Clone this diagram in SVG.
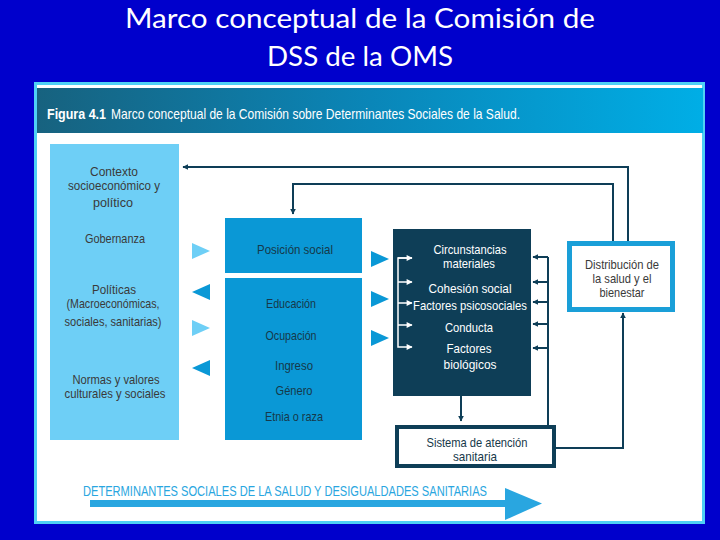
<svg xmlns="http://www.w3.org/2000/svg" width="720" height="540" viewBox="0 0 720 540">
<defs>
<linearGradient id="hdr" x1="0" y1="0" x2="1" y2="0">
<stop offset="0" stop-color="#17627f"/>
<stop offset="0.5" stop-color="#0a86b8"/>
<stop offset="1" stop-color="#00aee6"/>
</linearGradient>
<marker id="ah" viewBox="0 0 10 10" refX="9" refY="5" markerWidth="6" markerHeight="6" orient="auto" markerUnits="userSpaceOnUse">
<path d="M0,0 L10,5 L0,10 z" fill="#0e3e57"/>
</marker>
<marker id="aw" viewBox="0 0 10 10" refX="9" refY="5" markerWidth="7" markerHeight="6" orient="auto" markerUnits="userSpaceOnUse">
<path d="M0,0 L10,5 L0,10 z" fill="#ffffff"/>
</marker>
</defs>
<style>
.t{font-family:"Liberation Sans",Arial,sans-serif;font-size:13px;text-anchor:middle}
.g{fill:#3a3a3a}
.w{fill:#ffffff}
.d{fill:#16394a}
.ln{fill:none;stroke:#0e3e57;stroke-width:2}
.lw{fill:none;stroke:#ffffff;stroke-width:1.5}
.lt{fill:#6ecff6}
.md{fill:#0a98d6}
</style>
<rect x="0" y="0" width="720" height="540" fill="#0000cc"/>
<g id="title" font-family="Lato,'Open Sans','Liberation Sans',sans-serif" font-size="27" fill="#ffffff" text-anchor="middle">
<text x="360" y="28" textLength="470" lengthAdjust="spacingAndGlyphs">Marco conceptual de la Comisión de</text>
<text x="360" y="66" textLength="186" lengthAdjust="spacingAndGlyphs">DSS de la OMS</text>
</g>
<rect x="35.5" y="83.5" width="668" height="439" fill="#ffffff" stroke="#4fd0f5" stroke-width="3"/>
<g id="header" font-family="'Liberation Sans',Arial,sans-serif" font-size="15" fill="#ffffff">
<rect x="37" y="88" width="666" height="45" fill="url(#hdr)"/>
<text x="47" y="119" font-weight="bold" textLength="59" lengthAdjust="spacingAndGlyphs">Figura 4.1</text>
<text x="111" y="119" textLength="409" lengthAdjust="spacingAndGlyphs">Marco conceptual de la Comisión sobre Determinantes Sociales de la Salud.</text>
</g>
<g id="contexto">
<rect x="50" y="144" width="129" height="296" class="lt"/>
<text class="t g" x="114" y="176" textLength="48" lengthAdjust="spacingAndGlyphs">Contexto</text>
<text class="t g" x="114" y="190" textLength="92" lengthAdjust="spacingAndGlyphs">socioeconómico y</text>
<text class="t g" x="113" y="207" textLength="40" lengthAdjust="spacingAndGlyphs">político</text>
<text class="t g" x="115" y="243" textLength="60" lengthAdjust="spacingAndGlyphs">Gobernanza</text>
<text class="t g" x="114" y="294" textLength="44" lengthAdjust="spacingAndGlyphs">Políticas</text>
<text class="t g" x="113" y="308" textLength="93" lengthAdjust="spacingAndGlyphs">(Macroeconómicas,</text>
<text class="t g" x="113" y="326" textLength="97" lengthAdjust="spacingAndGlyphs">sociales, sanitarias)</text>
<text class="t g" x="116" y="384" textLength="87" lengthAdjust="spacingAndGlyphs">Normas y valores</text>
<text class="t g" x="115" y="398" textLength="101" lengthAdjust="spacingAndGlyphs">culturales y sociales</text>
</g>
<g id="posicion">
<rect x="225" y="218" width="137" height="55" class="md"/>
<text class="t d" x="295" y="254" textLength="76" lengthAdjust="spacingAndGlyphs">Posición social</text>
</g>
<g id="estratificadores">
<rect x="225" y="278" width="137" height="162" class="md"/>
<text class="t d" x="291" y="308" textLength="50" lengthAdjust="spacingAndGlyphs">Educación</text>
<text class="t d" x="291" y="340" textLength="51" lengthAdjust="spacingAndGlyphs">Ocupación</text>
<text class="t d" x="294" y="370" textLength="38" lengthAdjust="spacingAndGlyphs">Ingreso</text>
<text class="t d" x="294" y="395" textLength="37" lengthAdjust="spacingAndGlyphs">Género</text>
<text class="t d" x="294" y="421" textLength="58" lengthAdjust="spacingAndGlyphs">Etnia o raza</text>
</g>
<g id="intermedios">
<rect x="393" y="229" width="138" height="167" fill="#0e3e57"/>
<text class="t w" x="470" y="254" textLength="73" lengthAdjust="spacingAndGlyphs">Circunstancias</text>
<text class="t w" x="469" y="268" textLength="52" lengthAdjust="spacingAndGlyphs">materiales</text>
<text class="t w" x="470" y="293" textLength="83" lengthAdjust="spacingAndGlyphs">Cohesión social</text>
<text class="t w" x="470" y="310" textLength="114" lengthAdjust="spacingAndGlyphs">Factores psicosociales</text>
<text class="t w" x="469" y="332" textLength="48" lengthAdjust="spacingAndGlyphs">Conducta</text>
<text class="t w" x="469" y="353" textLength="45" lengthAdjust="spacingAndGlyphs">Factores</text>
<text class="t w" x="470" y="369" textLength="53" lengthAdjust="spacingAndGlyphs">biológicos</text>
</g>
<g id="distribucion">
<rect x="569.5" y="243.5" width="103" height="66" fill="#ffffff" stroke="#1a9fd8" stroke-width="5"/>
<text class="t g" x="622" y="269" font-size="12" textLength="74" lengthAdjust="spacingAndGlyphs">Distribución de</text>
<text class="t g" x="622" y="283" font-size="12" textLength="59" lengthAdjust="spacingAndGlyphs">la salud y el</text>
<text class="t g" x="622" y="297" font-size="12" textLength="45" lengthAdjust="spacingAndGlyphs">bienestar</text>
</g>
<g id="sistema">
<rect x="397" y="427" width="157" height="39" fill="#ffffff" stroke="#0e3e57" stroke-width="4"/>
<text class="t d" x="477" y="447" font-size="12" textLength="101" lengthAdjust="spacingAndGlyphs">Sistema de atención</text>
<text class="t d" x="475" y="461" font-size="12" textLength="44" lengthAdjust="spacingAndGlyphs">sanitaria</text>
</g>
<g id="connectors">
<polygon points="192,243 210,251 192,259" class="lt"/>
<polygon points="210,284 192,292 210,300" class="md"/>
<polygon points="192,320 210,328 192,336" class="lt"/>
<polygon points="210,360 192,368 210,376" class="md"/>
<polygon points="371,251 389,259 371,267" class="md"/>
<polygon points="371,291 389,299 371,307" class="md"/>
<polygon points="371,330 389,338 371,346" class="md"/>
<path class="lw" d="M412,258 H398 V347 H412" marker-end="url(#aw)"/>
<path class="lw" d="M398,258 H412" marker-end="url(#aw)"/>
<path class="lw" d="M398,282 H412" marker-end="url(#aw)"/>
<path class="lw" d="M398,303 H412" marker-end="url(#aw)"/>
<path class="lw" d="M398,325 H412" marker-end="url(#aw)"/>
<path class="ln" d="M548,425 V257"/>
<path class="ln" d="M548,257 H533" marker-end="url(#ah)"/>
<path class="ln" d="M548,282 H533" marker-end="url(#ah)"/>
<path class="ln" d="M548,302 H533" marker-end="url(#ah)"/>
<path class="ln" d="M548,324 H533" marker-end="url(#ah)"/>
<path class="ln" d="M548,348 H533" marker-end="url(#ah)"/>
<path class="ln" d="M461,396 V421" marker-end="url(#ah)"/>
<path class="ln" d="M556,448 H623 V313" marker-end="url(#ah)"/>
<path class="ln" d="M628,241 V167 H183" marker-end="url(#ah)"/>
<path class="ln" d="M613,241 V184 H293 V214" marker-end="url(#ah)"/>
</g>
<g id="determinantes">
<text x="83" y="496" font-family="'Liberation Sans',Arial,sans-serif" font-size="14" fill="#29a6e0" textLength="404" lengthAdjust="spacingAndGlyphs">DETERMINANTES SOCIALES DE LA SALUD Y DESIGUALDADES SANITARIAS</text>
<rect x="90" y="500" width="420" height="7" fill="#29a6e0"/>
<polygon points="505,488 542,503.5 505,520" fill="#29a6e0"/>
</g>
</svg>
